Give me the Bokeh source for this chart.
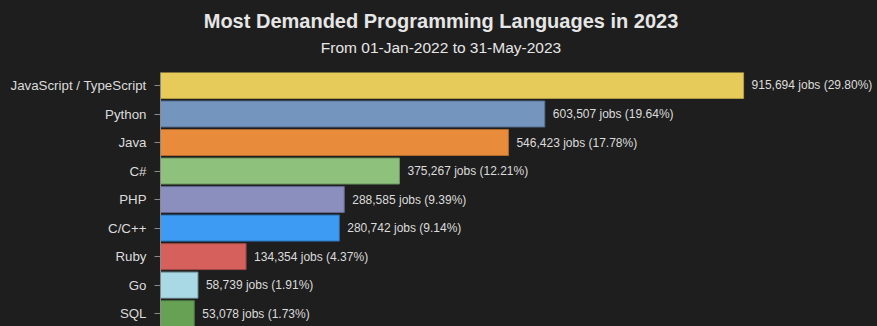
from bokeh.plotting import figure
from bokeh.layouts import column
from bokeh.models import Range1d, FixedTicker, Label, ColumnDataSource
from bokeh.core.properties import value
from bokeh.embed import file_html
from bokeh.resources import INLINE

languages = ["JavaScript / TypeScript", "Python", "Java", "C#", "PHP",
             "C/C++", "Ruby", "Go", "SQL"]
jobs = [915694, 603507, 546423, 375267, 288585, 280742, 134354, 58739, 53078]
percents = [29.80, 19.64, 17.78, 12.21, 9.39, 9.14, 4.37, 1.91, 1.73]

title_text = "Most Demanded Programming Languages in 2023"
subtitle_text = "From 01-Jan-2022 to 31-May-2023"

fill_colors = ["#e6cb5b", "#7395be", "#e88c3b", "#8dc17c", "#8a8fbd",
               "#3d9bf3", "#d5605c", "#a9d9e4", "#67a154"]
line_colors = ["#b39e45", "#55708f", "#b06a2c", "#6a925d", "#63678c",
               "#2d74b8", "#a04845", "#7fa3ab", "#4d7a3f"]

idx = list(range(len(languages)))
labels = [f"{j:,} jobs ({p:.2f}%)" for j, p in zip(jobs, percents)]

src = ColumnDataSource(dict(y=idx, jobs=jobs, fill=fill_colors,
                            line=line_colors, label=labels))

BG = "#1e1e1e"
FONT = "Liberation Sans"
BAR_H = 0.91
AXIS_COLOR = "#8a8a8a"
W = 877
HEAD_H = 72
LEFT = 160

# --- heading (title + subtitle); frame is aligned with the chart frame below ---
head = figure(width=W, height=HEAD_H, output_backend="svg", toolbar_location=None,
              x_range=Range1d(0, W - LEFT), y_range=Range1d(0, HEAD_H),
              background_fill_color=BG, border_fill_color=BG, min_border=0,
              min_border_left=LEFT)
head.outline_line_color = None
head.grid.visible = False
head.axis.visible = False
head.add_layout(Label(x=W / 2 + 2 - LEFT, y=HEAD_H - 20, x_units="screen", y_units="screen",
                      text=title_text, text_align="center", text_baseline="middle",
                      text_font=FONT, text_font_size="20px", text_font_style="bold",
                      text_color="#e6e6e6"))
head.add_layout(Label(x=W / 2 + 2 - LEFT, y=HEAD_H - 47, x_units="screen", y_units="screen",
                      text=subtitle_text, text_align="center", text_baseline="middle",
                      text_font=FONT, text_font_size="15.5px",
                      text_color="#e6e6e6"))

# --- bar chart ---
p = figure(width=W, height=326 - HEAD_H, output_backend="svg", toolbar_location=None,
           x_range=Range1d(0, 1126000), y_range=Range1d(8.45, -BAR_H / 2),
           background_fill_color=BG, border_fill_color=BG,
           min_border_left=LEFT, min_border_right=0, min_border_bottom=0,
           min_border_top=0)
p.outline_line_color = None
p.grid.visible = False
p.xaxis.visible = False

p.hbar(y="y", left=0, right="jobs", height=BAR_H, fill_color="fill",
       line_color="line", line_width=1, source=src)
p.text(x="jobs", y="y", text="label", x_offset=8, text_baseline="middle",
       text_align="left", text_color="#dcdcdc", text_font_size="12px",
       text_font=value(FONT), source=src)

ax = p.yaxis[0]
ax.ticker = FixedTicker(ticks=idx)
ax.major_label_overrides = {i: n for i, n in zip(idx, languages)}
ax.minor_tick_line_color = None
ax.major_tick_out = 6
ax.major_tick_in = 0
ax.major_tick_line_color = AXIS_COLOR
ax.axis_line_color = AXIS_COLOR
ax.major_label_standoff = 8
ax.major_label_text_font = FONT
ax.major_label_text_font_size = "13.3px"
ax.major_label_text_color = "#dcdcdc"

layout = column(head, p, spacing=0, styles={"background-color": BG})
open("out.html", "w").write(file_html(layout, INLINE))
